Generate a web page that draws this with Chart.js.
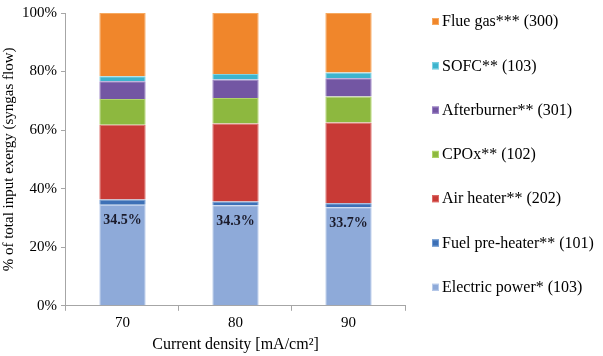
<!DOCTYPE html>
<html>
<head>
<meta charset="utf-8">
<script src="https://cdn.jsdelivr.net/npm/chart.js@4/dist/chart.umd.min.js"></script>
<style>
  html, body { margin: 0; padding: 0; background: #fff; }
  #wrap { width: 603px; height: 356px; }
</style>
</head>
<body>
<div id="wrap"><canvas id="chart" width="603" height="356"></canvas></div>
<script>
// categorias (densidade de corrente)
const categories = ['70', '80', '90'];

// valores em % da exergia de entrada
const electricPower = [34.5, 34.3, 33.7];
const fuelPreHeater = [1.8, 1.3, 1.3];
const airHeater = [25.5, 26.7, 27.6];
const cpox = [8.8, 8.7, 8.9];
const afterburner = [6.1, 6.3, 6.2];
const sofc = [1.7, 1.9, 2.0];
const flueGas = [21.6, 20.8, 20.3];

const yTicks = [0, 20, 40, 60, 80, 100];

const serif = '"Liberation Serif", "Times New Roman", serif';

// rótulos das barras de potência elétrica
const barLabels = {
    id: 'barLabels',
    afterDatasetsDraw(chart) {
        const ctx = chart.ctx;
        const meta = chart.getDatasetMeta(0);
        ctx.save();
        ctx.font = 'bold 14px ' + serif;
        ctx.fillStyle = '#1a1a2a';
        ctx.textAlign = 'center';
        ctx.textBaseline = 'middle';
        meta.data.forEach((bar, i) => {
            ctx.fillText(electricPower[i].toFixed(1) + '%', bar.x, bar.y + 16);
        });
        ctx.restore();
    }
};

// legenda desenhada à direita (ordem invertida, como no original)
const sideLegend = {
    id: 'sideLegend',
    afterDraw(chart) {
        const ctx = chart.ctx;
        const sets = chart.data.datasets.slice().reverse();
        ctx.save();
        ctx.font = '16px ' + serif;
        ctx.textBaseline = 'middle';
        ctx.textAlign = 'left';
        sets.forEach((ds, i) => {
            const y = 21 + i * 44.3;
            ctx.fillStyle = ds.backgroundColor;
            ctx.fillRect(432, y - 3, 7, 7);
            ctx.strokeStyle = ds.borderColor;
            ctx.lineWidth = 1;
            ctx.strokeRect(432.5, y - 2.5, 6, 6);
            ctx.fillStyle = '#000';
            ctx.fillText(ds.label, 442, y + 1);
        });
        ctx.restore();
    }
};

const ctx = document.getElementById('chart').getContext('2d');
const chart = new Chart(ctx, {
    type: 'bar',
    data: {
        labels: categories,
        datasets: [
            { label: 'Electric power* (103)', data: electricPower, backgroundColor: '#8eaad9', borderColor: '#b8cbea' },
            { label: 'Fuel pre-heater** (101)', data: fuelPreHeater, backgroundColor: '#3d70b6', borderColor: '#6f9ad2' },
            { label: 'Air heater** (202)', data: airHeater, backgroundColor: '#c83a36', borderColor: '#dc6a66' },
            { label: 'CPOx** (102)', data: cpox, backgroundColor: '#8db83f', borderColor: '#b0d46a' },
            { label: 'Afterburner** (301)', data: afterburner, backgroundColor: '#7356a3', borderColor: '#9a80c4' },
            { label: 'SOFC** (103)', data: sofc, backgroundColor: '#3db4cd', borderColor: '#7fd3e4' },
            { label: 'Flue gas*** (300)', data: flueGas, backgroundColor: '#f0862b', borderColor: '#f7a95f' }
        ].map(ds => Object.assign(ds, { borderWidth: 1, categoryPercentage: 1, barPercentage: 0.41 }))
    },
    options: {
        responsive: false,
        animation: false,
        layout: { padding: { top: 0, right: 198, left: 0, bottom: 0 } },
        plugins: {
            legend: { display: false },
            tooltip: { enabled: false }
        },
        scales: {
            x: {
                stacked: true,
                grid: { drawOnChartArea: false, color: '#a6a6a6', tickLength: 5, offset: true },
                border: { color: '#a6a6a6' },
                ticks: { font: { family: serif, size: 15 }, color: '#000', padding: 3 },
                title: {
                    display: true,
                    text: 'Current density [mA/cm²]',
                    font: { family: serif, size: 16 },
                    color: '#000',
                    padding: { top: 0, bottom: 2 }
                }
            },
            y: {
                stacked: true,
                min: 0,
                max: 100,
                afterBuildTicks(axis) {
                    axis.ticks = yTicks.map(v => ({ value: v }));
                },
                grid: { drawOnChartArea: false, color: '#a6a6a6', tickLength: 5 },
                border: { color: '#a6a6a6' },
                ticks: {
                    font: { family: serif, size: 15 },
                    color: '#000',
                    padding: 4,
                    callback: v => v + '%'
                },
                title: {
                    display: true,
                    text: '% of total input exergy (syngas flow)',
                    font: { family: serif, size: 15 },
                    color: '#000',
                    padding: { top: 0, bottom: 0 }
                }
            }
        }
    },
    plugins: [barLabels, sideLegend]
});
</script>
</body>
</html>
